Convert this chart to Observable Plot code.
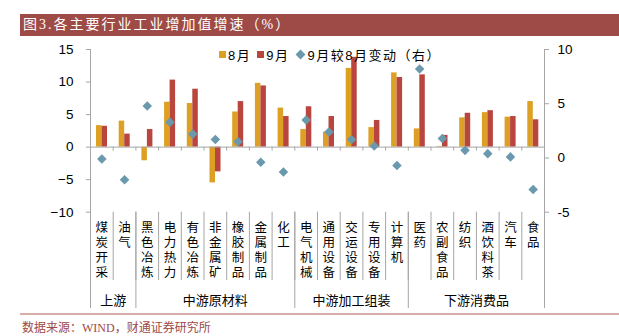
<!DOCTYPE html>
<html><head><meta charset="utf-8">
<script src="https://cdn.jsdelivr.net/npm/d3@7"></script>
<script src="https://cdn.jsdelivr.net/npm/@observablehq/plot@0.6"></script>
<style>
body{margin:0;background:#fff;}
#wrap{position:relative;width:619px;height:336px;overflow:hidden;}
#title{position:absolute;left:20px;top:14px;width:599px;height:21.5px;background:#9E4A46;color:#fff;font-size:14px;font-family:"Liberation Serif","Noto Sans CJK SC",serif;line-height:21.5px;padding-left:3px;box-sizing:border-box;letter-spacing:2px;white-space:nowrap;}
#chart{position:absolute;left:0;top:36px;}
#legend{position:absolute;left:219px;top:45px;height:18px;display:flex;align-items:center;font-size:13px;font-family:"Liberation Sans","Noto Sans CJK SC",sans-serif;color:#000;letter-spacing:1.5px;white-space:nowrap;}
#legend .item{display:flex;align-items:center;margin-right:6px;}
#legend .sw{width:7px;height:7px;margin-right:2px;}
#legend .dm{width:7px;height:7px;transform:rotate(45deg);margin:0 3px 0 2px;}
#sep{position:absolute;left:20px;top:313px;width:599px;height:2px;background:#D8AEAA;}
#source{position:absolute;left:22px;top:318px;font-size:12px;font-family:"Liberation Serif","Noto Sans CJK SC",serif;color:#9E4A46;white-space:nowrap;}
</style>
</head><body>
<div id="wrap">
  <div id="title"></div>
  <div id="chart"></div>
  <div id="legend"></div>
  <div id="sep"></div>
  <div id="source"></div>
</div>
<script>
const titleText = "图3.各主要行业工业增加值增速（%）";
const sourceText = "数据来源：WIND，财通证券研究所";
const seriesNames = ["8月", "9月", "9月较8月变动（右）"];
const colors = ["#DDA024", "#B8463F", "#6A99AE"];

const categories = ["煤炭开采","油气","黑色冶炼","电力热力","有色冶炼","非金属矿","橡胶制品","金属制品","化工",
  "电气机械","通用设备","交运设备","专用设备","计算机",
  "医药","农副食品","纺织","酒饮料茶","汽车","食品"];
const aug = [3.3, 4.0, -2.1, 6.9, 6.7, -5.5, 5.4, 9.8, 6.0, 2.7, 2.3, 12.1, 3.0, 11.4, 2.8, 0.1, 4.5, 5.3, 4.6, 7.0];
const sep = [3.2, 2.0, 2.7, 10.3, 8.9, -3.8, 7.0, 9.4, 4.7, 6.2, 4.7, 13.8, 4.1, 10.7, 11.1, 1.8, 5.2, 5.6, 4.7, 4.2];
const change = [-0.1, -2.0, 4.8, 3.3, 2.2, 1.7, 1.5, -0.4, -1.3, 3.5, 2.4, 1.7, 1.1, -0.7, 8.2, 1.8, 0.7, 0.4, 0.1, -2.9];
const groupNames = ["上游", "中游原材料", "中游加工组装", "下游消费品"];
const groupSizes = [2, 7, 5, 6];
const leftTicks = [-10, -5, 0, 5, 10, 15];
const rightTicks = [-5, 0, 5, 10];
const leftDomain = [-10, 15];
const rightDomain = [-5, 10];

document.getElementById("title").textContent = titleText;
document.getElementById("source").textContent = sourceText;
const lg = document.getElementById("legend");
seriesNames.forEach((n, i) => {
  const it = document.createElement("div"); it.className = "item";
  const m = document.createElement("div"); m.className = i < 2 ? "sw" : "dm"; m.style.background = colors[i];
  const t = document.createElement("span"); t.textContent = n;
  it.appendChild(m); it.appendChild(t); lg.appendChild(it);
});

const W = 619, H = 274, mL = 90, mR = 75, mT = 13, mB = 98.3;
const bw = (W - mL - mR) / categories.length;
const toLeft = r => leftDomain[0] + (r - rightDomain[0]) * (leftDomain[1] - leftDomain[0]) / (rightDomain[1] - rightDomain[0]);
const fromLeft = l => rightDomain[0] + (l - leftDomain[0]) * (rightDomain[1] - rightDomain[0]) / (leftDomain[1] - leftDomain[0]);

const rows = categories.map((c, i) => ({c, aug: aug[i], sep: sep[i], chg: change[i]}));
let start = 0;
const groups = groupNames.map((g, i) => {
  const n = groupSizes[i];
  const g0 = {name: g, n, first: categories[start], anchor: categories[start + Math.floor((n - 1) / 2)]};
  start += n;
  return g0;
});
const oddGroups = groups.filter(g => g.n % 2 === 1);
const evenGroups = groups.filter(g => g.n % 2 === 0);
const gray = "#A6A6A6";
const fontSans = "Liberation Sans, Arial, sans-serif";
const fontCJK = "Noto Sans CJK SC, sans-serif";

const plot = Plot.plot({
  width: W, height: H, marginLeft: mL, marginRight: mR, marginTop: mT, marginBottom: mB,
  style: {fontFamily: fontSans, fontSize: "13.5px", color: "#000", background: "transparent", overflow: "visible"},
  x: {domain: categories, padding: 0, round: false, axis: null},
  y: {domain: leftDomain, axis: null},
  marks: [
    Plot.barY(rows, {x: "c", y: "aug", fill: colors[0], insetLeft: 6, insetRight: bw - 11.5}),
    Plot.barY(rows, {x: "c", y: "sep", fill: colors[1], insetLeft: 11.5, insetRight: bw - 17}),
    Plot.ruleY([0], {stroke: gray}),
    Plot.ruleX(categories.slice(1), {x: d => d, dx: -bw / 2, y1: 0, y2: 0, insetBottom: -4, stroke: gray}),
    Plot.ruleX(categories.slice(1), {x: d => d, dx: -bw / 2, y1: leftDomain[0], y2: leftDomain[0], insetBottom: -68.3, stroke: gray}),
    Plot.ruleX(groups.slice(1), {x: "first", dx: -bw / 2, y1: leftDomain[0], y2: leftDomain[0], insetBottom: -96.3, stroke: gray}),
    Plot.ruleX([categories[0]], {x: d => d, dx: -bw / 2, y1: leftDomain[1], y2: leftDomain[0], insetBottom: -96.3, stroke: gray}),
    Plot.ruleX([categories[categories.length - 1]], {x: d => d, dx: bw / 2, y1: leftDomain[1], y2: leftDomain[0], insetBottom: -96.3, stroke: gray}),
    Plot.axisY({anchor: "left", ticks: leftTicks, tickSize: 4, tickPadding: 13, stroke: gray, fill: "#000", fontSize: 13.5, label: null}),
    Plot.axisY({anchor: "right", ticks: rightTicks.map(toLeft), tickFormat: d => String(Math.round(fromLeft(d))), tickSize: 4, tickPadding: 9, stroke: gray, fill: "#000", fontSize: 13.5, label: null}),
    Plot.dot(rows, {x: "c", y: d => toLeft(d.chg), symbol: "diamond2", r: 4.3, fill: colors[2], stroke: "none"}),
    Plot.text(categories, {x: d => d, text: d => [...d].join("\n"), frameAnchor: "bottom", lineAnchor: "top", dy: 9, fontSize: 12.5, lineHeight: 1.2, fontFamily: fontCJK, fill: "#000"}),
    Plot.text(oddGroups, {x: "anchor", text: "name", frameAnchor: "bottom", lineAnchor: "middle", dy: 88.3, fontSize: 13, fontFamily: fontCJK, fill: "#000"}),
    Plot.text(evenGroups, {x: "anchor", text: "name", frameAnchor: "bottom", lineAnchor: "middle", dx: bw / 2, dy: 88.3, fontSize: 13, fontFamily: fontCJK, fill: "#000"})
  ]
});
document.getElementById("chart").appendChild(plot);
</script>
</body></html>
